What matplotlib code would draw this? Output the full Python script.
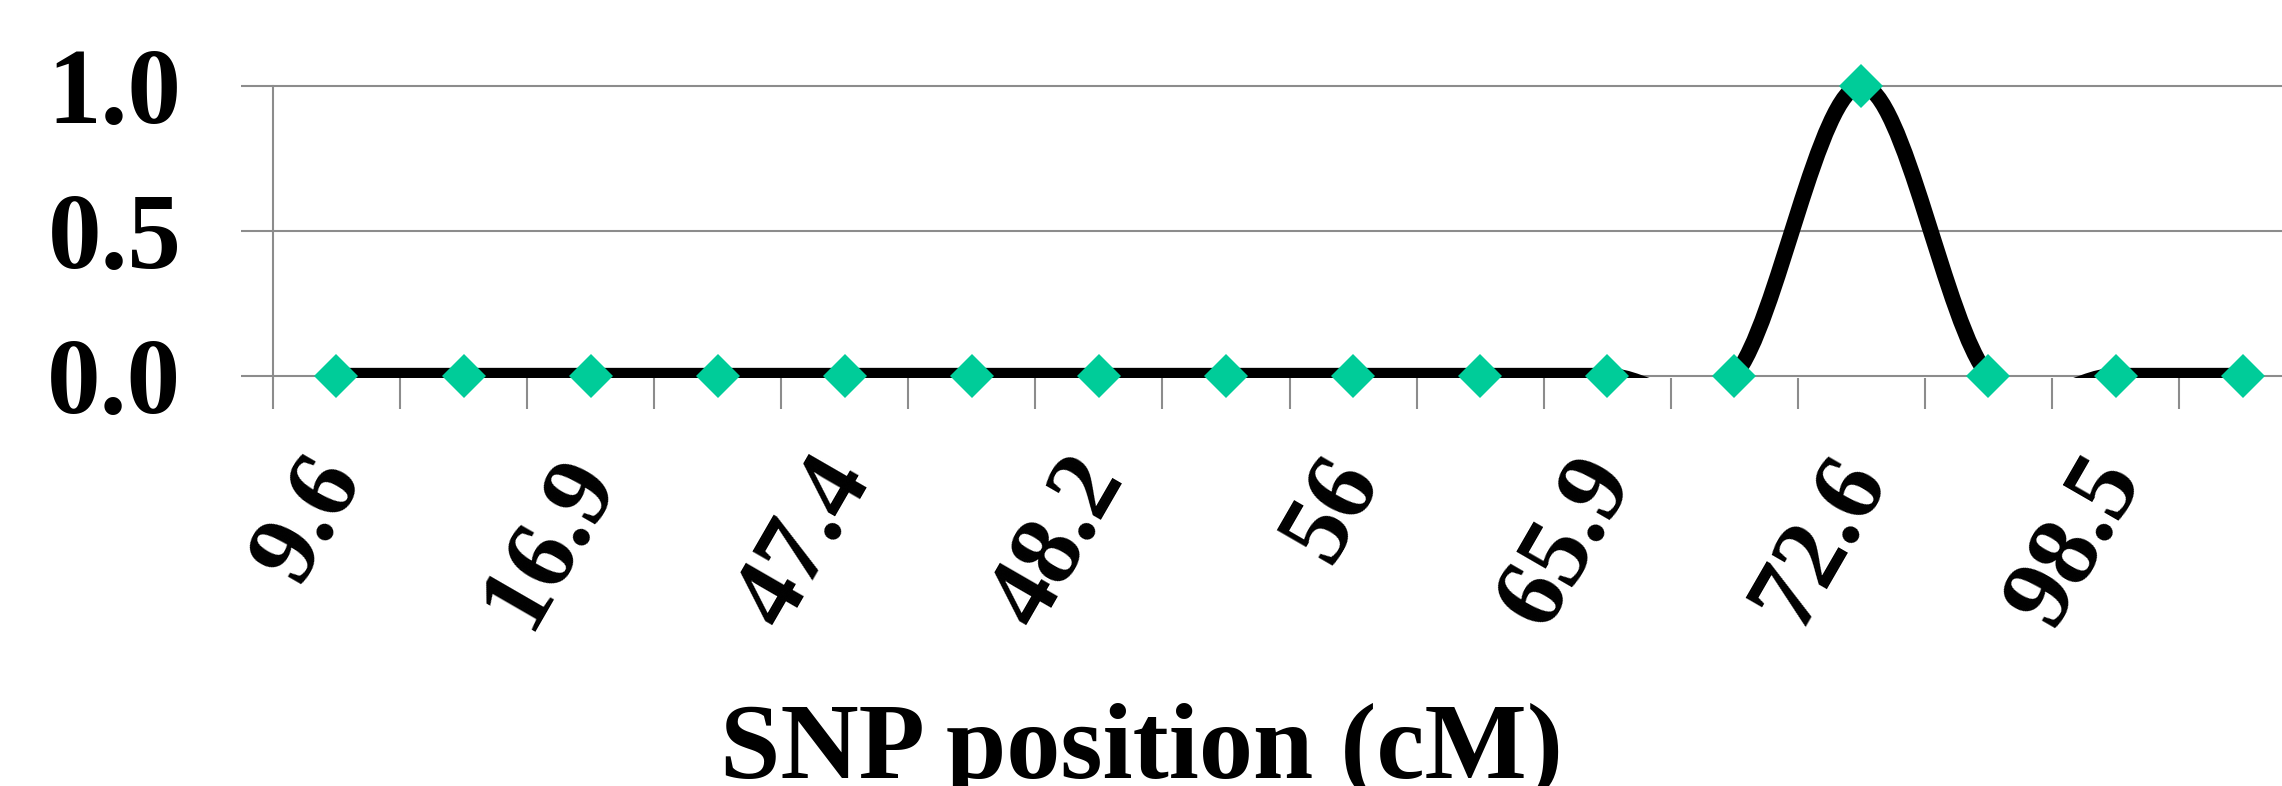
import numpy as np
import matplotlib
matplotlib.use("Agg")
import matplotlib.pyplot as plt
from matplotlib.path import Path
from matplotlib.patches import PathPatch
from matplotlib.transforms import ScaledTranslation

# one value per SNP marker, labels only on every other category (as in the original)
values = [0, 0, 0, 0, 0, 0, 0, 0, 0, 0, 0, 0, 1.0, 0, 0, 0]
tick_labels = ["9.6", "16.9", "47.4", "48.2", "56", "65.9", "72.6", "98.5"]
label_step = 2
x_title = "SNP position (cM)"

GRAY = "#8c8c8c"
GREEN = "#00CC99"
SERIF = ["Liberation Serif", "DejaVu Serif"]

plt.rcParams["font.family"] = SERIF
plt.rcParams["font.weight"] = "bold"

DPI = 100
fig = plt.figure(figsize=(22.82, 7.86), dpi=DPI)
# plot area runs off the right edge of the picture, like the cropped original
ax = fig.add_axes([0.1196, 0.5187, 0.8804, 0.4092])

x = np.arange(len(values))
y = np.asarray(values, dtype=float)


def smooth_path(xs, ys):
    """Excel-style smoothed line: Catmull-Rom segments as cubic Beziers."""
    pts = np.column_stack([xs, ys])
    ext = np.vstack([pts[0], pts, pts[-1]])
    verts = [pts[0]]
    codes = [Path.MOVETO]
    for i in range(len(pts) - 1):
        p0, p1, p2, p3 = ext[i], ext[i + 1], ext[i + 2], ext[i + 3]
        verts += [p1 + (p2 - p0) / 6, p2 - (p3 - p1) / 6, p2]
        codes += [Path.CURVE4] * 3
    return Path(verts, codes)


# the dips below zero get clipped by the plot area, as in Excel
ax.add_patch(PathPatch(smooth_path(x, y), facecolor="none", edgecolor="black",
                       linewidth=11.3, capstyle="butt", joinstyle="round", zorder=3))
ax.plot(x, y, linestyle="none", marker="D", markersize=21.9, color=GREEN,
        markeredgewidth=0, clip_on=False, zorder=4)

ax.set_xlim(-0.497, 15.31)
ax.set_ylim(-0.009, 1.1)

# gridlines / y axis
ax.set_yticks([0.0, 0.5, 1.0])
ax.set_yticklabels(["0.0", "0.5", "1.0"])
ax.yaxis.grid(True, color=GRAY, linewidth=1.5)
ax.set_axisbelow(True)
ax.tick_params(axis="y", direction="out", length=23, width=1.5, color=GRAY,
               pad=43, labelsize=77)

# x axis: tick marks between categories, labels on every other category
ax.set_xticks(x[::label_step])
ax.set_xticklabels(tick_labels, rotation=60, ha="right", va="center",
                   rotation_mode="anchor", fontsize=73)
ax.tick_params(axis="x", which="major", length=0, pad=63)
ax.set_xticks(np.arange(len(values)) - 0.5, minor=True)
ax.tick_params(axis="x", which="minor", direction="out", length=22.5,
               width=1.5, color=GRAY)
shift = ScaledTranslation(5 / DPI, 0, fig.dpi_scale_trans)
for lab in ax.get_xticklabels():
    lab.set_transform(lab.get_transform() + shift)

for side in ("top", "right", "bottom"):
    ax.spines[side].set_visible(False)
ax.spines["left"].set_color(GRAY)
ax.spines["left"].set_linewidth(1.5)
ax.spines["left"].set_bounds(-0.009, 1.0)

fig.text(0.5004, 0.010, x_title, ha="center", va="baseline", fontsize=78,
         fontweight="bold")

fig.savefig("out.png", dpi=DPI)
